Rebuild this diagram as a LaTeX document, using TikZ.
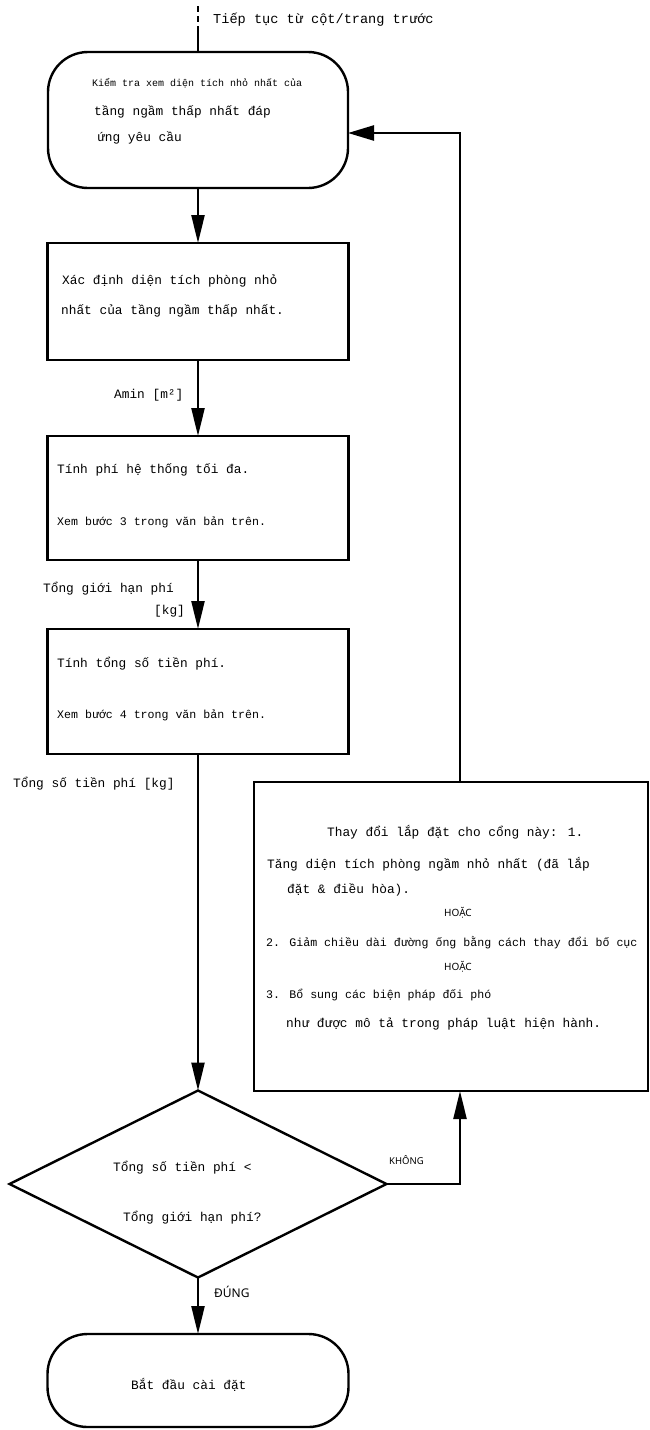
\documentclass[tikz,border=0pt]{standalone}
\usepackage{fontspec}
\newfontfamily\mono{Liberation Mono}
\newfontfamily\nsans{Noto Sans}
\usetikzlibrary{arrows.meta,shapes.geometric}
\tikzset{
  ln/.style={line width=2.4pt},
  arr/.style={ln,-{Triangle[length=28pt,width=13pt]}},
  boxr/.style={draw,ln,rectangle,inner sep=0pt,outer sep=0pt},
  roundbox/.style={boxr,rounded corners=40pt},
  txt/.style={anchor=base west,inner sep=0pt,font=\mono\fontsize{12.8}{15}\selectfont},
  txs/.style={txt,font=\mono\fontsize{11.6}{14}\selectfont},
  txk/.style={txt,font=\mono\fontsize{10}{12}\selectfont},
  lab/.style={anchor=base,inner sep=0pt,font=\nsans\fontsize{10}{12}\selectfont},
}
\begin{document}
\begin{tikzpicture}[x=1pt,y=-1pt]
\useasboundingbox (0,0) rectangle (650,1430);
% boxes
\node[roundbox,minimum width=300pt,minimum height=136pt] (b1) at (198,120) {};
\node[boxr,minimum width=301pt,minimum height=117pt] (b2) at (198,301.5) {};
\node[boxr,minimum width=301pt,minimum height=124pt] (b3) at (198,498) {};
\node[boxr,minimum width=301pt,minimum height=125pt] (b4) at (198,691.5) {};
\node[boxr,minimum width=394pt,minimum height=309pt] (b5) at (451,936.5) {};
\node[draw,ln,diamond,minimum width=377pt,minimum height=187pt,inner sep=0pt,outer sep=0pt] (dia) at (198,1184) {};
\node[roundbox,minimum width=301pt,minimum height=93pt] (b6) at (198,1380.5) {};
% incoming dashed connector
\coordinate (top) at (198,6);
\coordinate (topj) at (198,29);
\draw[line width=2pt,dash pattern=on 6pt off 4pt] (top) -- (topj);
\draw[ln] (topj) -- (b1.north);
% connectors
\draw[arr] (b1.south) -- (b2.north);
\draw[arr] (b2.south) -- (b3.north);
\draw[arr] (b3.south) -- (b4.north);
\draw[arr] (b4.south) -- (dia.north);
\draw[arr] (dia.south) -- (b6.north);
\draw[arr] (dia.east) -| ([xshift=9pt]b5.south);
\draw[ln,-{Triangle[length=26pt,width=15pt]}] ([xshift=9pt]b5.north) |- ([yshift=-13pt]b1.east);
% texts
\node[txt,font=\mono\fontsize{13.6}{16}\selectfont] (t0) at (213,23) {Tiếp tục từ cột/trang trước};
\node[txk] (t1a) at (92,86) {Kiểm tra xem diện tích nhỏ nhất của};
\node[txt] (t1b) at (94,115) {tầng ngầm thấp nhất đáp};
\node[txt] (t1c) at (97,141) {ứng yêu cầu};
\node[txt] (t2a) at (62,284) {Xác định diện tích phòng nhỏ};
\node[txt] (t2b) at (61,314) {nhất của tầng ngầm thấp nhất.};
\node[txt] (l1) at (114,398) {Amin [m²]};
\node[txt] (t3a) at (57,473) {Tính phí hệ thống tối đa.};
\node[txs] (t3b) at (57,525) {Xem bước 3 trong văn bản trên.};
\node[txt] (l2a) at (43,592) {Tổng giới hạn phí};
\node[txt] (l2b) at (154,614) {[kg]};
\node[txt] (t4a) at (57,667) {Tính tổng số tiền phí.};
\node[txs] (t4b) at (57,718) {Xem bước 4 trong văn bản trên.};
\node[txt] (l3) at (13,787) {Tổng số tiền phí [kg]};
\node[txt] (t5a) at (327,836) {Thay đổi lắp đặt cho cổng này: 1.};
\node[txt] (t5b) at (267,868) {Tăng diện tích phòng ngầm nhỏ nhất (đã lắp};
\node[txt] (t5c) at (287,893) {đặt \& điều hòa).};
\node[lab] (t5d) at (458,916) {HOẶC};
\node[txs] (t5e) at (266,946) {2. Giảm chiều dài đường ống bằng cách thay đổi bố cục};
\node[lab] (t5f) at (458,970) {HOẶC};
\node[txs] (t5g) at (266,998) {3. Bổ sung các biện pháp đối phó};
\node[txt] (t5h) at (286,1027) {như được mô tả trong pháp luật hiện hành.};
\node[txt] (td1) at (113,1171) {Tổng số tiền phí <};
\node[txt] (td2) at (123,1221) {Tổng giới hạn phí?};
\node[lab,anchor=base west,font=\nsans\fontsize{9.5}{11}\selectfont] (lno) at (389,1164) {KHÔNG};
\node[lab,anchor=base west,font=\nsans\fontsize{12}{14}\selectfont] (lyes) at (214,1297) {ĐÚNG};
\node[txt] (t6) at (131,1389) {Bắt đầu cài đặt};
\end{tikzpicture}
\end{document}
